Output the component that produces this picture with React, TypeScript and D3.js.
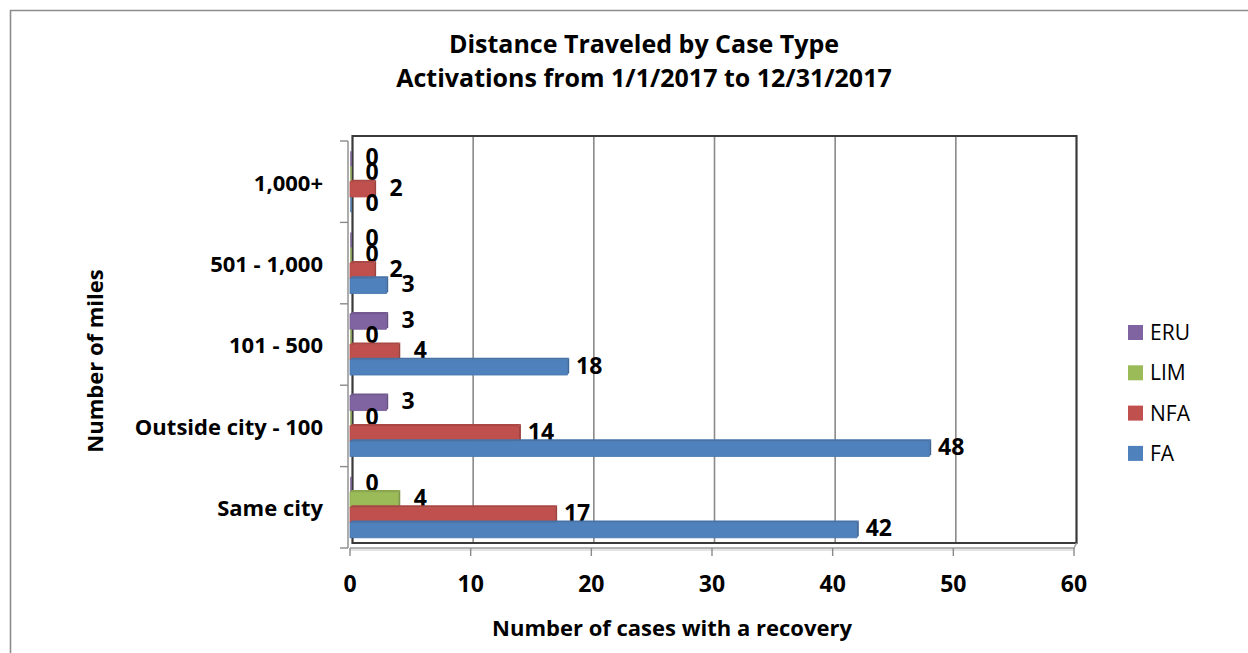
import * as d3 from "d3";

// categories top to bottom, as drawn
const categories = ["1,000+", "501 - 1,000", "101 - 500", "Outside city - 100", "Same city"];
// series top to bottom inside each category
const seriesNames = ["ERU", "LIM", "NFA", "FA"];
const seriesColors = ["#8064A2", "#9BBB59", "#C0504D", "#4F81BD"];

const eruValues = [0, 0, 3, 3, 0];
const limValues = [0, 0, 0, 0, 4];
const nfaValues = [2, 2, 4, 14, 17];
const faValues = [0, 3, 18, 48, 42];
const seriesValues = [eruValues, limValues, nfaValues, faValues];

const xTicks = [0, 10, 20, 30, 40, 50, 60];

const W = 1248;
const H = 653;
const FONT = "'Open Sans', 'DejaVu Sans', sans-serif";

// 3d depth of the back wall compared to the front plane
const DX = 2.5;
const DY = -5;

const x = d3.scaleLinear().domain([0, 60]).range([350, 1074]);
const y = d3.scaleBand().domain(categories).range([141, 548]).paddingInner(0.25).paddingOuter(0.125);
const ys = d3.scaleBand().domain(seriesNames).range([0, y.bandwidth()]);

function darker(c, k) {
    return d3.color(c).darker(k).formatHex();
}

const App = () => {
    const [x0, x1] = x.range();
    const [y0, y1] = y.range();
    const step = y.step();
    const bandEdges = d3.range(categories.length + 1).map((i) => y0 + i * step - (i === 0 ? 0 : 0));
    const d = 2;

    return (
        <svg width={W} height={H} style={{ position: "absolute", left: 0, top: 0, background: "#fff" }}>
            {/* chart frame */}
            <path d={`M10.5,${H + 5} V10.5 H${W + 5}`} fill="none" stroke="#8c8c8c" strokeWidth={1.6} />

            {/* title */}
            <text x={644} y={53} textAnchor="middle" fontFamily={FONT} fontWeight="bold" fontSize={25}>
                Distance Traveled by Case Type
            </text>
            <text x={644} y={87} textAnchor="middle" fontFamily={FONT} fontWeight="bold" fontSize={25}>
                Activations from 1/1/2017 to 12/31/2017
            </text>

            {/* back wall */}
            <rect x={x0 + DX} y={y0 + DY} width={x1 - x0} height={y1 - y0} fill="#fff" />
            {xTicks.slice(1, -1).map((t) => (
                <line key={t} x1={x(t) + DX} x2={x(t) + DX} y1={y0 + DY} y2={y1 + DY} stroke="#8a8a8a" strokeWidth={1.6} />
            ))}
            <path
                d={`M${x0 + DX},${y1 + DY} V${y0 + DY} H${x1 + DX} V${y1 + DY} Z`}
                fill="none"
                stroke="#3a3a3a"
                strokeWidth={2.2}
            />
            {/* floor front edge */}
            <path d={`M${x0},${y1} H${x1} L${x1 + DX},${y1 + DY}`} fill="none" stroke="#9a9a9a" strokeWidth={1.4} />
            <line x1={x0} x2={x1} y1={y1 + 2} y2={y1 + 2} stroke="#c8c8c8" strokeWidth={1} />

            {/* bars */}
            {categories.map((cat, ci) => (
                <g key={cat}>
                    {seriesNames.map((s, si) => {
                        const v = seriesValues[si][ci];
                        const by = y(cat) + ys(s);
                        const bh = ys.bandwidth();
                        const xe = x(v);
                        const col = seriesColors[si];
                        return (
                            <g key={s}>
                                {v > 0 && (
                                    <>
                                        <polygon
                                            points={`${x0},${by} ${x0 + d},${by - d} ${xe + d},${by - d} ${xe},${by}`}
                                            fill={darker(col, 0.35)}
                                        />
                                        <polygon
                                            points={`${xe},${by} ${xe + d},${by - d} ${xe + d},${by + bh - d} ${xe},${by + bh}`}
                                            fill={darker(col, 0.6)}
                                        />
                                        <rect
                                            x={x0}
                                            y={by}
                                            width={xe - x0}
                                            height={bh}
                                            fill={col}
                                            stroke={darker(col, 0.25)}
                                            strokeWidth={0.8}
                                        />
                                    </>
                                )}
                                {v === 0 && (
                                    <line x1={x0 + 1} x2={x0 + 1} y1={by} y2={by + bh} stroke={darker(col, 0.4)} strokeWidth={1.5} />
                                )}
                                <text
                                    x={xe + 22}
                                    y={by + bh / 2 - 2}
                                    dy="0.36em"
                                    textAnchor="middle"
                                    fontFamily={FONT}
                                    fontWeight="bold"
                                    fontSize={23}
                                >
                                    {v}
                                </text>
                            </g>
                        );
                    })}
                </g>
            ))}

            {/* y axis */}
            <line x1={x0 - 2} x2={x0 - 2} y1={y0} y2={y1} stroke="#8a8a8a" strokeWidth={1.4} />
            {bandEdges.map((e, i) => (
                <line key={i} x1={x0 - 10} x2={x0 - 2} y1={e} y2={e} stroke="#8a8a8a" strokeWidth={1.4} />
            ))}
            {categories.map((cat) => (
                <text
                    key={cat}
                    x={323}
                    y={y(cat) + y.bandwidth() / 2 + 1}
                    dy="0.36em"
                    textAnchor="end"
                    fontFamily={FONT}
                    fontWeight="bold"
                    fontSize={22}
                >
                    {cat}
                </text>
            ))}

            {/* x axis */}
            {xTicks.map((t) => (
                <g key={t}>
                    <line x1={x(t)} x2={x(t)} y1={y1} y2={y1 + 8} stroke="#8a8a8a" strokeWidth={1.4} />
                    <text x={x(t)} y={592} textAnchor="middle" fontFamily={FONT} fontWeight="bold" fontSize={23}>
                        {t}
                    </text>
                </g>
            ))}

            {/* axis titles */}
            <text x={672} y={636} textAnchor="middle" fontFamily={FONT} fontWeight="bold" fontSize={22}>
                Number of cases with a recovery
            </text>
            <text
                transform={`translate(103, 361) rotate(-90)`}
                textAnchor="middle"
                fontFamily={FONT}
                fontWeight="bold"
                fontSize={22}
            >
                Number of miles
            </text>

            {/* legend */}
            {seriesNames.map((s, i) => (
                <g key={s} transform={`translate(1128, ${325 + i * 40.3})`}>
                    <rect x={0} y={0} width={15} height={15} fill={seriesColors[i]} />
                    <text x={22} y={15} fontFamily={FONT} fontSize={21}>
                        {s}
                    </text>
                </g>
            ))}
        </svg>
    );
};

export default App;
